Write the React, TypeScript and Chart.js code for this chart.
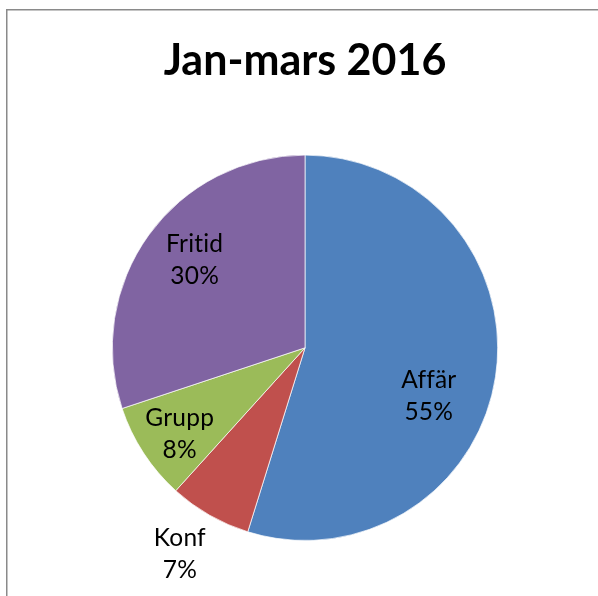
import React, { useEffect, useRef } from "react";
import { Chart, registerables } from "chart.js";

Chart.register(...registerables);

// ---- data ----
const chartTitle = "Jan-mars 2016";
const categories = ["Affär", "Konf", "Grupp", "Fritid"];
const values = [54.8, 6.9, 8.2, 30.1];
const sliceColors = ["#4F81BD", "#C0504D", "#9BBB59", "#8064A2"];

// ---- label placement (fraction of radius along slice mid-angle, extra angle in degrees) ----
const labelRadius = [0.69, 1.25, 0.79, 0.73];
const labelAngleShift = [12.8, 1.6, -1.5, 2.5];

const FONT = "Lato, 'Open Sans', 'DejaVu Sans', sans-serif";

const framePlugin = {
  id: "frame",
  beforeDraw(chart: any) {
    const ctx = chart.ctx;
    ctx.save();
    ctx.fillStyle = "#ffffff";
    ctx.fillRect(0, 0, chart.width, chart.height);
    ctx.strokeStyle = "#8a8a8a";
    ctx.lineWidth = 1.5;
    ctx.strokeRect(6.75, 9.75, chart.width + 20, chart.height + 20);
    ctx.restore();
  },
};

const labelPlugin = {
  id: "sliceLabels",
  afterDatasetsDraw(chart: any) {
    const ctx = chart.ctx;
    const meta = chart.getDatasetMeta(0);
    const data = chart.data.datasets[0].data as number[];
    const total = data.reduce((a: number, b: number) => a + b, 0);
    ctx.save();
    ctx.fillStyle = "#000000";
    ctx.font = `24.5px ${FONT}`;
    try {
      (ctx as any).letterSpacing = "0.2px";
    } catch (e) {}
    ctx.textAlign = "center";
    ctx.textBaseline = "middle";
    meta.data.forEach((arc: any, i: number) => {
      const p = arc.getProps(["x", "y", "startAngle", "endAngle", "outerRadius"], true);
      const mid = (p.startAngle + p.endAngle) / 2 + (labelAngleShift[i] * Math.PI) / 180;
      const r = p.outerRadius * labelRadius[i];
      const cx = p.x + Math.cos(mid) * r;
      const cy = p.y + Math.sin(mid) * r;
      const pct = Math.round((data[i] / total) * 100) + "%";
      ctx.fillText(chart.data.labels[i], cx, cy - 16);
      ctx.fillText(pct, cx, cy + 16);
    });
    ctx.restore();
  },
};

export default function App() {
  const ref = useRef<HTMLCanvasElement | null>(null);
  useEffect(() => {
    if (!ref.current) return;
    const chart = new Chart(ref.current, {
      type: "pie",
      data: {
        labels: categories,
        datasets: [
          {
            data: values,
            backgroundColor: sliceColors,
            borderColor: "rgba(255,255,255,0.7)",
            borderWidth: 1,
          },
        ],
      },
      options: {
        responsive: false,
        animation: false,
        layout: { padding: { top: 35, bottom: 55, left: 12, right: 0 } },
        plugins: {
          legend: { display: false },
          tooltip: { enabled: false },
          title: {
            display: true,
            text: chartTitle,
            color: "#000000",
            font: { family: FONT, size: 43, weight: "bold" },
            padding: { top: 0, bottom: 68 },
          },
        },
      },
      plugins: [framePlugin, labelPlugin],
    });
    return () => chart.destroy();
  }, []);
  return (
    <div style={{ position: "fixed", left: 0, top: 0, width: 598, height: 596, background: "#fff" }}>
      <canvas ref={ref} width={598} height={596} style={{ display: "block" }} />
    </div>
  );
}
